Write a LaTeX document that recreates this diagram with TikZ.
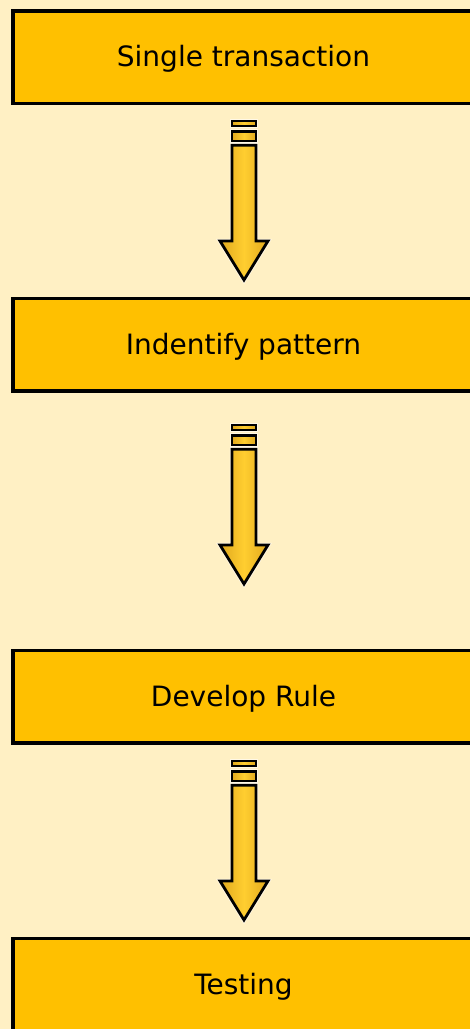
\documentclass[tikz,border=0pt]{standalone}
\usepackage{fontspec}
\setmainfont{DejaVu Sans}
\definecolor{bg}{HTML}{FFF0C4}
\definecolor{boxfill}{HTML}{FFC000}
\definecolor{arrdark}{HTML}{E0A81E}
\definecolor{arrlight}{HTML}{FFCE30}
\definecolor{glow}{HTML}{FFF8E6}
\begin{document}
\begin{tikzpicture}[x=1pt,y=-1pt,
  stage/.style={draw=black, line width=3.5pt, fill=boxfill, minimum width=461pt,
    minimum height=92.5pt, inner sep=0pt, text height=19pt, text depth=0pt,
    font=\fontsize{28}{30}\selectfont},
  arrowpart/.style={draw=black, line width=2.8pt, left color=arrdark,
    right color=arrdark, middle color=arrlight, line join=miter,
    preaction={draw=glow, line width=4.4pt}},
  thinbar/.style={arrowpart, line width=2pt, preaction={draw=glow, line width=3.4pt}}]
\useasboundingbox[fill=bg] (0,0) rectangle (470,1029);
\node[stage] (b1) at (243.5,57.25) {Single transaction};
\node[stage] (b2) at (243.5,344.5) {Indentify pattern};
\node[stage] (b3) at (243.5,696.5) {Develop Rule};
\node[stage] (b4) at (243.5,984.5) {Testing};
\foreach \name/\top in {a1/120,a2/424,a3/760} {
  \coordinate (\name) at (244,\top);
  \begin{scope}[shift={(\name)}]
    \path[thinbar] (-12,1) rectangle (12,5.8);
    \path[arrowpart] (-12,11.3) rectangle (12,21);
    \path[arrowpart] (-12,25.3) -- (12,25.3) -- (12,121) -- (24,121) -- (0,160)
      -- (-24,121) -- (-12,121) -- cycle;
  \end{scope}
}
\end{tikzpicture}
\end{document}
